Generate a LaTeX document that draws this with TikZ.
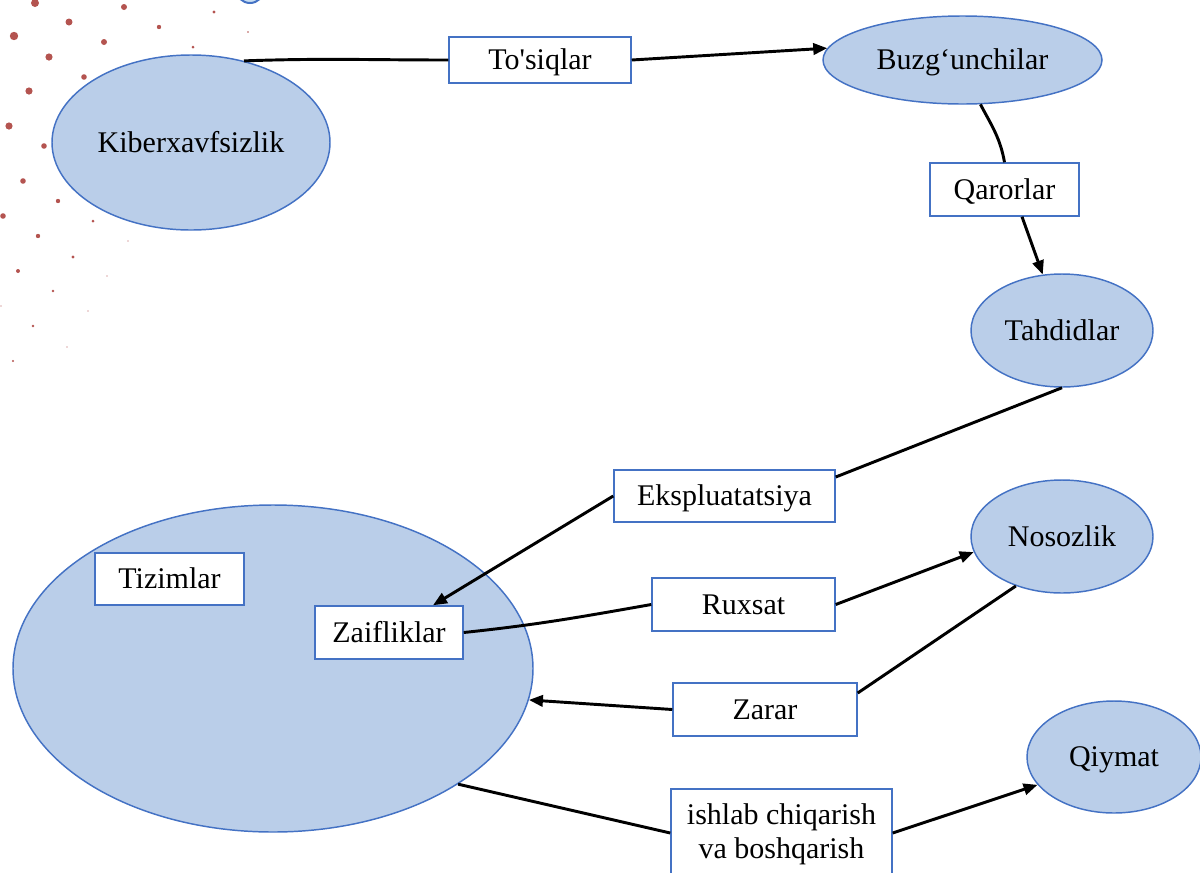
\documentclass[tikz,border=0pt]{standalone}
\usepackage{fontspec}
\newfontfamily\tnr{Liberation Serif}
\usetikzlibrary{shapes.geometric,arrows.meta,calc}
\definecolor{ellfill}{RGB}{186,206,233}
\definecolor{edge}{RGB}{68,114,196}
\definecolor{dotc}{RGB}{180,84,80}
\definecolor{topfill}{RGB}{200,222,242}
\begin{document}
\begin{tikzpicture}[x=0.75pt,y=-0.75pt,
  every node/.style={font=\tnr\fontsize{22.5}{25.5}\selectfont, inner sep=0pt},
  ell/.style={ellipse, draw=edge, line width=1.1pt, fill=ellfill, text height=14.5pt, text depth=0pt},
  lbox/.style={rectangle, draw=edge, line width=1.1pt, fill=white, text height=14.5pt, text depth=0pt},
  link/.style={line width=2.2pt, draw=black},
  arr/.style={link, -{Triangle[length=10.5pt,width=8.5pt]}},
  deco/.style={fill=dotc, draw=none}]
\useasboundingbox (0,0) rectangle (1200,872);

% decorative dots
\foreach \x/\y/\r in {35/3/4,124/7/3,69/22/3.5,14/36/4.2,104/42/3,159/27/2.2,214/12/1.6,
  49/57/3.6,84/77/2.8,193/47/1.5,29/91/3.6,9/126/3.6,44/146/2.8,23/181/2.8,58/201/2.2,
  3/216/2.8,93/221/1.5,38/236/2.2,73/257/1.6,18/271/2,53/291/1.4,33/326/1.4,13/361/1.2,
  248/32/0.8,128/241/0.7,107/276/0.7,88/311/0.7,67/347/0.7,1/306/0.7}
  \fill[deco] (\x,\y) circle[radius=\r];

% small circle at the top edge
\draw[draw=edge, line width=1.5pt, fill=topfill] (250,-11) circle[radius=14];

% ellipses
\node[ell, minimum width=208.5pt, minimum height=131.25pt] (kib) at (191,142.5) {Kiberxavfsizlik};
\node[ell, minimum width=209.25pt, minimum height=66pt] (buz) at (962.5,60) {Buzg‘unchilar};
\node[ell, minimum width=136.5pt, minimum height=84.75pt] (tah) at (1062,330.5) {Tahdidlar};
\node[ell, minimum width=136.5pt, minimum height=84.75pt] (nos) at (1062,536.5) {Nosozlik};
\node[ell, minimum width=130.5pt, minimum height=84pt] (qiy) at (1114,757) {Qiymat};
\node[ell, minimum width=390pt, minimum height=245.25pt] (tiz) at (273,668.5) {};

% boxes
\node[lbox, minimum width=136.5pt, minimum height=34.5pt] (tos) at (540,60) {To'siqlar};
\node[lbox, minimum width=111.75pt, minimum height=39.75pt] (qar) at (1004.5,189.5) {Qarorlar};
\node[lbox, minimum width=165.75pt, minimum height=39pt] (eks) at (724.5,496) {Ekspluatatsiya};
\node[lbox, minimum width=137.25pt, minimum height=39.75pt] (rux) at (743.5,604.5) {Ruxsat};
\node[lbox, minimum width=138pt, minimum height=39.75pt] (zar) at (765,709.5) {Zarar};
\node[lbox, minimum width=111.75pt, minimum height=39pt] (tzb) at (169.5,579) {Tizimlar};
\node[lbox, minimum width=111pt, minimum height=39.75pt] (zai) at (389,632.5) {Zaifliklar};
\node[rectangle, draw=edge, line width=1.1pt, fill=white, align=center,
      minimum width=165.75pt, minimum height=66pt, text height=40pt, text depth=2.5pt]
      (ish) at (781.5,833) {ishlab chiqarish\\va boshqarish};

% connectors
\draw[link] (kib.57) to[out=2,in=180] (tos.west);
\draw[arr] (tos.east) -- (buz.175);
\draw[link] (buz.-68) to[out=-62,in=100] (qar.north);
\draw[arr] ($(qar.south)+(17.5,0)$) -- (tah.109);
\draw[link] (tah.south) -- ($(eks.east)+(0,-19)$);
\draw[arr] (eks.west) -- ($(zai.north)+(44,0)$);
\draw[link] (zai.east) to[out=6,in=190] (rux.west);
\draw[arr] (rux.east) -- (nos.190);
\draw[link] (nos.227) -- ($(zar.east)+(0,-16.5)$);
\draw[arr] (zar.west) -- (tiz.-7);
\draw[link] (tiz.-32) -- (ish.west);
\draw[arr] (ish.east) -- (qiy.200);
\end{tikzpicture}
\end{document}
